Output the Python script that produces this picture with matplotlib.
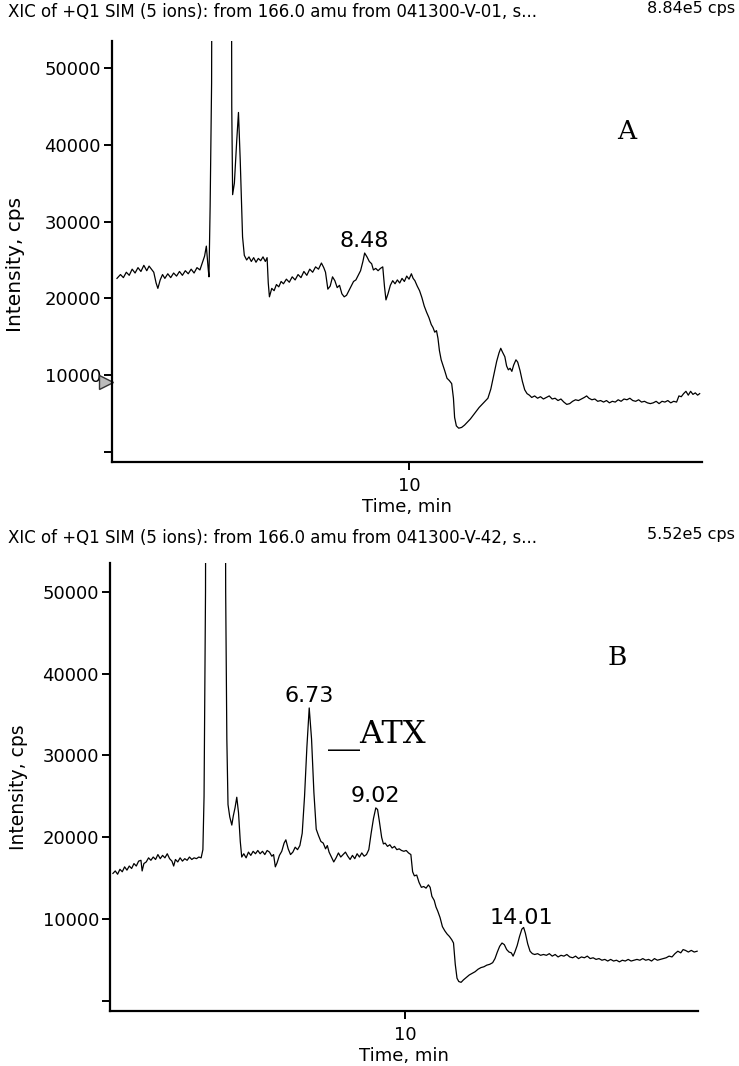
import matplotlib
matplotlib.use("Agg")
import matplotlib.pyplot as plt
from matplotlib.transforms import blended_transform_factory

plt.rcParams['font.family'] = 'DejaVu Sans'

# ---------------------------------------------------------------------------
# Data (time in min, intensity in kcps)
# ---------------------------------------------------------------------------
time_a = [0.00, 0.12, 0.22, 0.32, 0.42, 0.52, 0.62, 0.72, 0.82, 0.92, 1.02, 1.10,
          1.18, 1.26, 1.34, 1.40, 1.48, 1.56, 1.64, 1.74, 1.84, 1.94, 2.04, 2.14,
          2.24, 2.34, 2.44, 2.54, 2.64, 2.74, 2.84, 2.92, 3.00, 3.06, 3.12, 3.15,
          3.19, 3.24, 3.30, 3.60, 3.88, 3.93, 3.96, 4.02, 4.10, 4.16, 4.22, 4.30,
          4.36, 4.44, 4.52, 4.60, 4.68, 4.76, 4.84, 4.92, 5.00, 5.08, 5.14, 5.18,
          5.22, 5.30, 5.38, 5.46, 5.54, 5.62, 5.70, 5.80, 5.90, 6.00, 6.10, 6.20,
          6.30, 6.40, 6.50, 6.60, 6.70, 6.80, 6.90, 7.00, 7.08, 7.14, 7.22, 7.30,
          7.38, 7.46, 7.54, 7.62, 7.70, 7.78, 7.86, 7.94, 8.02, 8.10, 8.18, 8.26,
          8.34, 8.42, 8.48, 8.56, 8.64, 8.72, 8.78, 8.86, 8.94, 9.02, 9.10, 9.16,
          9.21, 9.28, 9.36, 9.44, 9.52, 9.60, 9.68, 9.76, 9.84, 9.92, 10.00, 10.08,
          10.14, 10.20, 10.28, 10.36, 10.44, 10.52, 10.60, 10.68, 10.76, 10.82, 10.88, 10.94,
          10.99, 11.04, 11.10, 11.16, 11.22, 11.30, 11.38, 11.46, 11.52, 11.56, 11.62, 11.70,
          11.80, 11.90, 12.00, 12.10, 12.20, 12.30, 12.40, 12.50, 12.60, 12.70, 12.80, 12.90,
          13.00, 13.08, 13.14, 13.20, 13.28, 13.34, 13.40, 13.46, 13.52, 13.58, 13.66, 13.72,
          13.80, 13.88, 13.96, 14.04, 14.12, 14.20, 14.30, 14.40, 14.50, 14.60, 14.70, 14.80,
          14.90, 15.00, 15.10, 15.20, 15.30, 15.40, 15.50, 15.60, 15.70, 15.80, 15.90, 16.00,
          16.08, 16.16, 16.26, 16.36, 16.46, 16.56, 16.66, 16.76, 16.86, 16.96, 17.06, 17.16,
          17.26, 17.36, 17.46, 17.56, 17.66, 17.76, 17.86, 17.96, 18.06, 18.16, 18.26, 18.36,
          18.46, 18.56, 18.66, 18.76, 18.86, 18.96, 19.06, 19.16, 19.24, 19.32, 19.40, 19.48,
          19.56, 19.64, 19.72, 19.80, 19.88, 19.95]
kcps_a = [22.6, 23.1, 22.7, 23.4, 23.0, 23.8, 23.3, 24.0, 23.5, 24.3, 23.6, 24.2,
          23.8, 23.4, 22.0, 21.3, 22.4, 23.1, 22.6, 23.2, 22.7, 23.3, 22.9, 23.5,
          23.0, 23.6, 23.2, 23.8, 23.3, 24.0, 23.7, 24.6, 25.5, 26.8, 24.0, 22.8,
          32.0, 48.0, 150.0, 884.0, 150.0, 45.0, 33.5, 35.0, 40.5, 44.2, 38.0, 28.0,
          25.6, 25.0, 25.4, 24.8, 25.3, 24.7, 25.2, 24.9, 25.4, 24.8, 25.3, 22.0,
          20.2, 21.3, 21.0, 21.8, 21.5, 22.2, 21.9, 22.5, 22.1, 22.8, 22.4, 23.1,
          22.7, 23.5, 23.0, 23.8, 23.4, 24.1, 23.8, 24.6, 24.0, 23.4, 21.2, 21.6,
          22.8, 22.3, 21.4, 21.7, 20.6, 20.2, 20.4, 21.0, 21.6, 22.2, 22.4, 23.0,
          23.6, 24.8, 25.9, 25.4, 24.8, 24.5, 23.7, 23.9, 23.6, 23.9, 24.1, 21.5,
          19.8, 20.6, 21.7, 22.3, 21.9, 22.4, 22.0, 22.6, 22.2, 22.9, 22.5, 23.2,
          22.6, 22.3, 21.6, 21.0, 20.1, 19.0, 18.2, 17.5, 16.6, 16.2, 15.6, 15.8,
          14.8, 13.2, 12.0, 11.3, 10.6, 9.6, 9.3, 8.9, 7.0, 4.5, 3.4, 3.1,
          3.2, 3.5, 3.9, 4.3, 4.8, 5.3, 5.8, 6.2, 6.6, 7.0, 8.2, 10.0,
          11.8, 12.9, 13.5, 13.0, 12.4, 11.2, 10.7, 10.9, 10.5, 11.3, 12.0, 11.7,
          10.6, 9.2, 8.1, 7.6, 7.4, 7.1, 7.3, 7.0, 7.2, 6.9, 7.1, 7.3,
          6.9, 7.0, 6.7, 6.9, 6.5, 6.2, 6.3, 6.6, 6.8, 6.7, 6.9, 7.1,
          7.3, 7.0, 6.8, 6.9, 6.6, 6.7, 6.5, 6.7, 6.4, 6.6, 6.5, 6.8,
          6.6, 6.9, 6.8, 7.0, 6.7, 6.6, 6.8, 6.5, 6.6, 6.4, 6.3, 6.4,
          6.6, 6.3, 6.6, 6.5, 6.7, 6.4, 6.6, 6.5, 7.3, 7.2, 7.6, 7.9,
          7.4, 7.9, 7.5, 7.7, 7.4, 7.6]

time_b = [0.00, 0.08, 0.16, 0.24, 0.32, 0.40, 0.48, 0.56, 0.64, 0.72, 0.80, 0.88,
          0.96, 1.00, 1.06, 1.14, 1.22, 1.30, 1.38, 1.46, 1.54, 1.62, 1.70, 1.78,
          1.86, 1.94, 2.02, 2.08, 2.14, 2.22, 2.30, 2.38, 2.46, 2.54, 2.62, 2.70,
          2.78, 2.86, 2.94, 3.02, 3.08, 3.12, 3.17, 3.22, 3.55, 3.80, 3.86, 3.90,
          3.94, 4.00, 4.07, 4.12, 4.18, 4.24, 4.30, 4.36, 4.41, 4.48, 4.56, 4.64,
          4.72, 4.80, 4.88, 4.96, 5.04, 5.12, 5.20, 5.28, 5.36, 5.44, 5.50, 5.56,
          5.62, 5.70, 5.78, 5.86, 5.92, 6.00, 6.08, 6.16, 6.24, 6.32, 6.40, 6.48,
          6.56, 6.64, 6.72, 6.80, 6.88, 6.96, 7.04, 7.12, 7.20, 7.28, 7.34, 7.40,
          7.48, 7.56, 7.64, 7.72, 7.80, 7.88, 7.96, 8.04, 8.12, 8.20, 8.28, 8.36,
          8.44, 8.52, 8.60, 8.68, 8.76, 8.84, 8.92, 9.00, 9.06, 9.12, 9.20, 9.26,
          9.32, 9.40, 9.48, 9.56, 9.64, 9.72, 9.80, 9.88, 9.96, 10.04, 10.12, 10.20,
          10.26, 10.32, 10.40, 10.48, 10.56, 10.64, 10.72, 10.80, 10.86, 10.92, 11.00, 11.06,
          11.12, 11.20, 11.28, 11.36, 11.44, 11.52, 11.60, 11.66, 11.72, 11.78, 11.84, 11.92,
          12.00, 12.10, 12.20, 12.30, 12.40, 12.50, 12.60, 12.70, 12.80, 12.90, 13.00, 13.08,
          13.16, 13.24, 13.32, 13.40, 13.48, 13.56, 13.64, 13.70, 13.76, 13.84, 13.92, 14.00,
          14.06, 14.12, 14.20, 14.28, 14.36, 14.44, 14.54, 14.64, 14.74, 14.84, 14.94, 15.04,
          15.14, 15.24, 15.34, 15.44, 15.54, 15.64, 15.74, 15.84, 15.94, 16.04, 16.14, 16.24,
          16.34, 16.44, 16.54, 16.64, 16.74, 16.84, 16.94, 17.04, 17.14, 17.24, 17.34, 17.44,
          17.54, 17.64, 17.74, 17.84, 17.94, 18.04, 18.14, 18.24, 18.34, 18.44, 18.54, 18.64,
          18.74, 18.84, 18.94, 19.04, 19.14, 19.24, 19.34, 19.44, 19.52, 19.60, 19.70, 19.80,
          19.90, 20.00]
kcps_b = [15.6, 15.9, 15.5, 16.1, 15.8, 16.4, 16.0, 16.5, 16.2, 16.8, 16.5, 17.1,
          17.2, 15.9, 16.8, 17.0, 17.5, 17.2, 17.6, 17.3, 17.9, 17.4, 17.8, 17.5,
          18.0, 17.4, 17.1, 16.5, 17.3, 17.0, 17.5, 17.1, 17.4, 17.2, 17.6, 17.3,
          17.5, 17.4, 17.6, 17.5, 18.5, 25.0, 50.0, 150.0, 552.0, 150.0, 50.0, 32.0,
          24.0, 22.5, 21.5, 22.6, 23.6, 24.9, 23.0, 19.5, 17.6, 18.0, 17.5, 18.2,
          17.8, 18.3, 18.0, 18.4, 18.0, 18.3, 17.9, 18.4, 18.2, 17.7, 17.9, 16.4,
          16.9, 17.8, 18.3, 19.3, 19.7, 18.6, 17.9, 18.2, 18.8, 18.5, 19.0, 20.5,
          25.0, 31.0, 35.8, 32.0, 25.5, 21.0, 20.2, 19.5, 19.3, 18.6, 19.0, 18.2,
          17.6, 17.0, 17.5, 18.1, 17.6, 17.9, 18.2, 17.7, 17.3, 17.8, 17.4, 18.0,
          17.6, 18.1, 17.7, 17.9, 18.5, 20.5, 22.3, 23.6, 23.4, 22.0, 20.0, 19.2,
          19.3, 18.9, 19.1, 18.7, 18.9, 18.5, 18.6, 18.4, 18.3, 18.4, 18.1, 17.9,
          15.8, 15.3, 15.4, 14.5, 13.9, 14.0, 13.8, 14.2, 13.9, 12.8, 12.3, 11.5,
          11.0, 10.2, 9.1, 8.6, 8.2, 7.9, 7.5, 7.1, 4.5, 2.8, 2.4, 2.3,
          2.6, 2.9, 3.2, 3.4, 3.6, 3.9, 4.1, 4.2, 4.4, 4.5, 4.7, 5.2,
          6.0, 6.7, 7.1, 6.9, 6.3, 6.0, 5.9, 5.5, 6.0, 6.8, 7.9, 8.8,
          9.0, 8.3, 7.0, 6.1, 5.8, 5.7, 5.8, 5.6, 5.7, 5.6, 5.8, 5.5,
          5.7, 5.4, 5.6, 5.5, 5.7, 5.4, 5.3, 5.5, 5.2, 5.4, 5.3, 5.5,
          5.2, 5.3, 5.1, 5.2, 5.0, 5.1, 4.9, 5.1, 4.9, 5.0, 4.8, 5.0,
          4.9, 5.1, 4.9, 5.0, 5.1, 5.0, 5.2, 5.0, 5.1, 4.9, 5.2, 5.0,
          5.1, 5.2, 5.3, 5.5, 5.4, 5.8, 6.1, 5.9, 6.3, 6.2, 6.0, 6.2,
          6.0, 6.1]

peaks_a = [8.48]
peaks_b = [6.73, 9.02, 14.01]
yticks = [0, 10000, 20000, 30000, 40000, 50000]
ytick_labels = ['', '10000', '20000', '30000', '40000', '50000']
xticks = [10]
titles = ['XIC of +Q1 SIM (5 ions): from 166.0 amu from 041300-V-01, s...',
          'XIC of +Q1 SIM (5 ions): from 166.0 amu from 041300-V-42, s...']
max_cps = ['8.84e5 cps', '5.52e5 cps']
panel_tags = ['A', 'B']
threshold_a = 9100

fig = plt.figure(figsize=(7.39, 10.66), dpi=100)
axA = fig.add_axes([112/739, 1-462/1066, 590/739, 421/1066])
axB = fig.add_axes([110/739, 1-1011/1066, 588/739, 448/1066])

panels = [
    (axA, time_a, kcps_a, peaks_a, (-0.17, 20.03), (-1300, 53500)),
    (axB, time_b, kcps_b, peaks_b, (-0.10, 20.03), (-1200, 53500)),
]

for ax, t, k, peaks, xl, yl in panels:
    y = [v * 1000 for v in k]
    ax.plot(t, y, color='black', lw=0.9)
    ax.set_xlim(*xl)
    ax.set_ylim(*yl)
    for s in ['top', 'right']:
        ax.spines[s].set_visible(False)
    for s in ['left', 'bottom']:
        ax.spines[s].set_linewidth(1.6)
    ax.set_yticks(yticks)
    ax.set_yticklabels(ytick_labels)
    ax.set_xticks(xticks)
    ax.set_xticklabels([str(v) for v in xticks])
    ax.tick_params(direction='out', length=6, width=1.4, labelsize=13, pad=2)
    ax.tick_params(axis='x', pad=5)
    ax.set_xlabel('Time, min', fontsize=13, labelpad=2)
    # label each picked peak with its retention time
    for p in peaks:
        i = min(range(len(t)), key=lambda j: abs(t[j] - p))
        ax.annotate(f'{p:.2f}', (t[i], y[i]), xytext=(0, 4), textcoords='offset points',
                    ha='center', va='baseline', fontsize=16)

axA.set_ylabel('Intensity, cps', fontsize=14.5)
axB.set_ylabel('Intensity, cps', fontsize=13.5)
axA.yaxis.set_label_coords(-0.147, 0.47)
axB.yaxis.set_label_coords(-0.139, 0.50)

axA.text(0.873, 0.784, panel_tags[0], transform=axA.transAxes, ha='center', va='center',
         fontsize=19, family='DejaVu Serif')
axB.text(0.862, 0.788, panel_tags[1], transform=axB.transAxes, ha='center', va='center',
         fontsize=19, family='DejaVu Serif')
axB.text(7.36, 31500, '__ATX', ha='left', va='baseline', fontsize=23, family='DejaVu Serif')

# threshold marker on the left axis of panel A
tr = blended_transform_factory(axA.transAxes, axA.transData)
axA.plot([-0.011], [threshold_a], marker='>', ms=10, mfc='#bbbbbb', mec='#333333',
         mew=1.0, transform=tr, clip_on=False)

fig.text(8/739, 1-12/1066, titles[0], ha='left', va='center', fontsize=12)
fig.text(735/739, 1-9/1066, max_cps[0], ha='right', va='center', fontsize=11.5)
fig.text(8/739, 1-538/1066, titles[1], ha='left', va='center', fontsize=12)
fig.text(735/739, 1-534/1066, max_cps[1], ha='right', va='center', fontsize=11.5)

fig.savefig('out.png', dpi=100, facecolor='white')
